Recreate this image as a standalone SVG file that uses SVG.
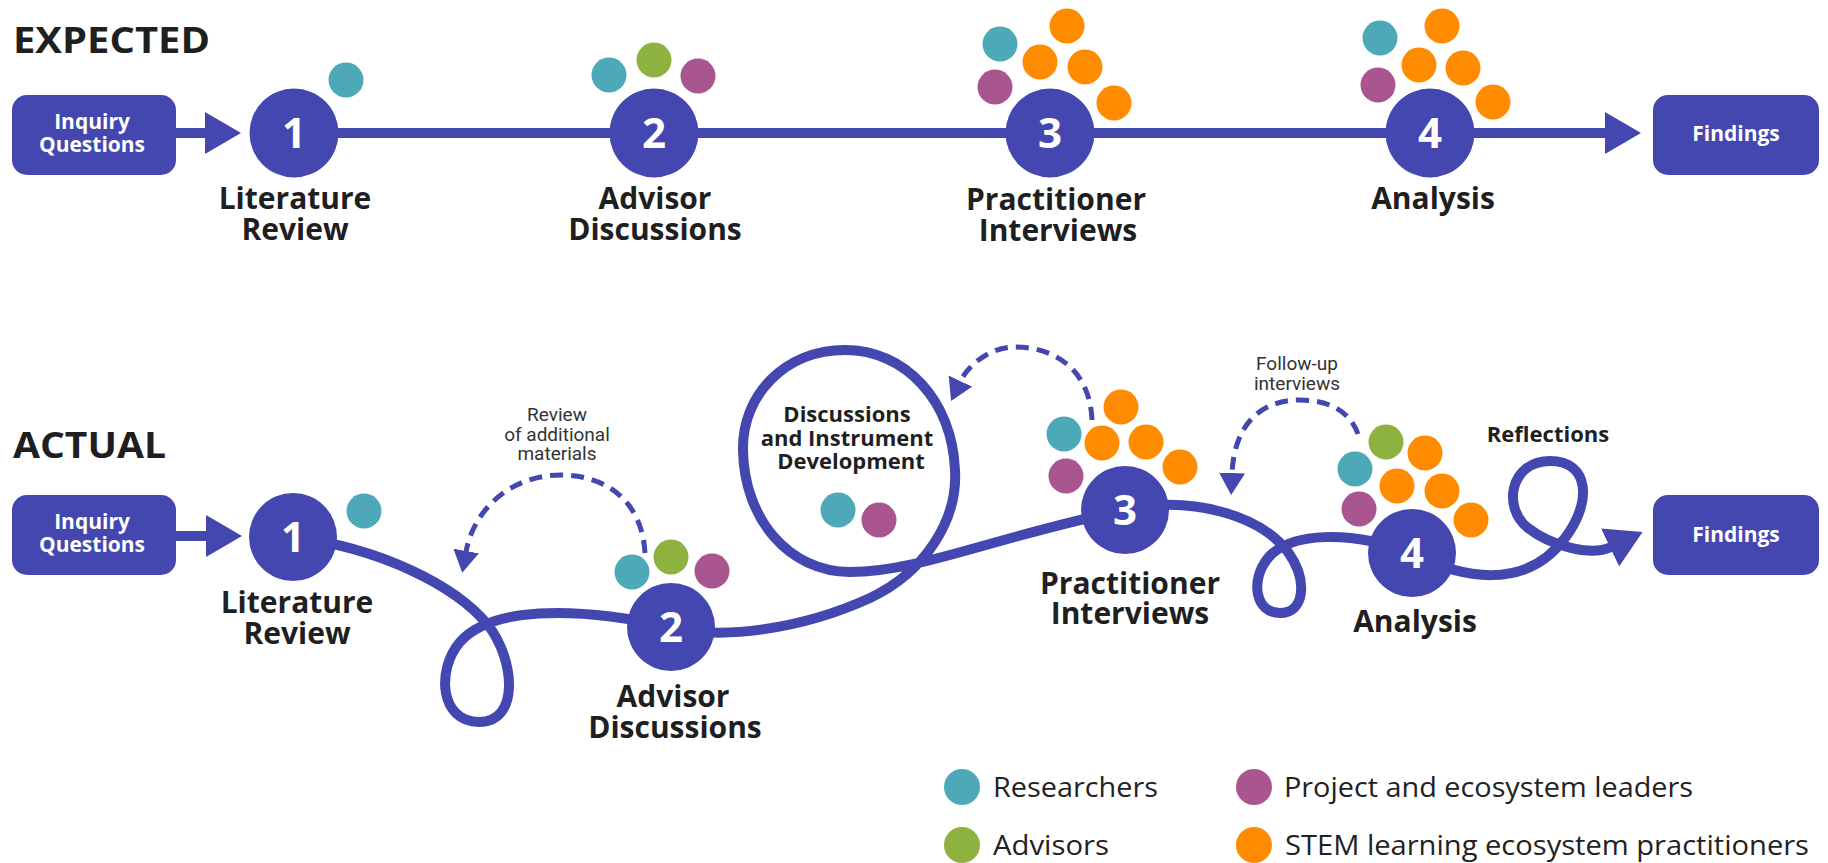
<svg xmlns="http://www.w3.org/2000/svg" width="1828" height="863" viewBox="0 0 1828 863">
<defs>
<style>
.ln{fill:none;stroke:#4447B0;stroke-width:10;stroke-linecap:round;stroke-linejoin:round}
.dash{fill:none;stroke:#4447B0;stroke-width:5;stroke-dasharray:13 8}
.blue{fill:#4447B0}
.teal{fill:#4DA9B7}
.green{fill:#8EB23F}
.purple{fill:#A85590}
.orange{fill:#FF8C00}
.num{font-family:'Open Sans','DejaVu Sans',sans-serif;font-weight:700;font-size:42px;fill:#fff;text-anchor:middle}
.boxt{font-family:'Open Sans','DejaVu Sans',sans-serif;font-weight:700;font-size:21px;fill:#fff;text-anchor:middle}
.lbl{font-family:'Open Sans','DejaVu Sans',sans-serif;font-weight:700;font-size:30px;fill:#1f1f1f;text-anchor:middle}
.lbls{font-family:'Open Sans','DejaVu Sans',sans-serif;font-weight:700;font-size:22px;fill:#1f1f1f;text-anchor:middle}
.title{font-family:'Open Sans','DejaVu Sans',sans-serif;font-weight:700;font-size:36px;fill:#1f1f1f}
.note{font-family:Roboto,'Liberation Sans',sans-serif;font-size:19px;fill:#333;text-anchor:middle}
.leg{font-family:'Open Sans','Liberation Sans',sans-serif;font-size:27px;fill:#222}
</style>
<marker id="ah" markerUnits="userSpaceOnUse" markerWidth="36" markerHeight="42" viewBox="0 0 36 42" refX="1" refY="21" orient="auto"><path d="M0,0 L36,21 L0,42 z" fill="#4447B0"/></marker>
<marker id="dh" markerUnits="userSpaceOnUse" markerWidth="22" markerHeight="26" viewBox="0 0 22 26" refX="1" refY="13" orient="auto"><path d="M0,0 L22,13 L0,26 z" fill="#4447B0"/></marker>
</defs>
<rect width="1828" height="863" fill="#fff"/>

<text class="title" x="13" y="53" textLength="197" lengthAdjust="spacingAndGlyphs">EXPECTED</text>
<text class="title" x="13" y="458" textLength="153" lengthAdjust="spacingAndGlyphs">ACTUAL</text>

<g id="connectors">
  <!-- expected -->
  <path class="ln" d="M176,133 H206" marker-end="url(#ah)"/>
  <path class="ln" d="M294,133 H1606" marker-end="url(#ah)"/>
  <!-- actual -->
  <path class="ln" d="M176,536 H207" marker-end="url(#ah)"/>
  <path class="ln" d="M293,537 C380,548 455,585 488,625 C515,660 520,722 479,722 C440,722 436,670 460,642 C490,608 570,605 671,627"/>
  <path class="ln" d="M671,627 C720,640 800,630 870,598 C925,572 958,520 955,470 C952,400 905,350 845,350 C785,350 742,395 743,450 C744,520 790,572 850,572 C920,572 1000,535 1125,510"/>
  <path class="ln" d="M1125,510 C1190,495 1260,515 1288,552 C1308,580 1305,613 1280,613 C1255,613 1250,580 1268,558 C1290,532 1350,530 1412,553"/>
  <path class="ln" d="M1412,553 C1460,578 1525,592 1565,538 C1592,503 1590,461 1550,461 C1510,461 1502,508 1528,528 C1550,545 1590,557 1611,547" marker-end="url(#ah)"/>
  <!-- dashed feedback arrows -->
  <path class="dash" d="M645,553 C642,500 605,475 561,475 C512,475 474,508 466,552" marker-end="url(#dh)"/>
  <path class="dash" d="M1092,420 C1090,370 1055,347 1015,347 C990,347 968,365 960,382" marker-end="url(#dh)"/>
  <path class="dash" d="M1358,434 C1350,412 1330,400 1300,400 C1260,400 1234,425 1232,474" marker-end="url(#dh)"/>
</g>

<!-- EXPECTED row -->
<g id="exp-inquiry">
  <rect class="blue" x="12" y="95" width="164" height="80" rx="15"/>
  <text class="boxt" x="92" y="129">Inquiry<tspan x="92" dy="23">Questions</tspan></text>
</g>
<g id="exp-step1">
  <circle class="blue" cx="294" cy="133" r="44.5"/>
  <text class="num" x="294" y="148">1</text>
  <circle class="teal" cx="346" cy="80" r="17.5"/>
  <text class="lbl" x="295" y="209">Literature<tspan x="295" dy="31">Review</tspan></text>
</g>
<g id="exp-step2">
  <circle class="blue" cx="654" cy="133" r="44.5"/>
  <text class="num" x="654" y="148">2</text>
  <circle class="teal" cx="609" cy="75" r="17.5"/>
  <circle class="green" cx="654" cy="60" r="17.5"/>
  <circle class="purple" cx="698" cy="76" r="17.5"/>
  <text class="lbl" x="655" y="209">Advisor<tspan x="655" dy="31">Discussions</tspan></text>
</g>
<g id="exp-step3">
  <circle class="blue" cx="1050" cy="133" r="44.5"/>
  <text class="num" x="1050" y="148">3</text>
  <circle class="teal" cx="1000" cy="44" r="17.5"/>
  <circle class="orange" cx="1067" cy="26" r="17.5"/>
  <circle class="orange" cx="1040" cy="62" r="17.5"/>
  <circle class="orange" cx="1085" cy="67" r="17.5"/>
  <circle class="purple" cx="995" cy="87" r="17.5"/>
  <circle class="orange" cx="1114" cy="103" r="17.5"/>
  <text class="lbl" x="1056" y="210">Practitioner<tspan x="1058" dy="31">Interviews</tspan></text>
</g>
<g id="exp-step4">
  <circle class="blue" cx="1430" cy="133" r="44.5"/>
  <text class="num" x="1430" y="148">4</text>
  <circle class="teal" cx="1380" cy="38" r="17.5"/>
  <circle class="orange" cx="1442" cy="26" r="17.5"/>
  <circle class="orange" cx="1419" cy="65" r="17.5"/>
  <circle class="orange" cx="1463" cy="68" r="17.5"/>
  <circle class="purple" cx="1378" cy="85" r="17.5"/>
  <circle class="orange" cx="1493" cy="102" r="17.5"/>
  <text class="lbl" x="1433" y="209">Analysis</text>
</g>
<g id="exp-findings">
  <rect class="blue" x="1653" y="95" width="166" height="80" rx="15"/>
  <text class="boxt" x="1736" y="141">Findings</text>
</g>

<!-- ACTUAL row -->
<g id="act-inquiry">
  <rect class="blue" x="12" y="495" width="164" height="80" rx="15"/>
  <text class="boxt" x="92" y="529">Inquiry<tspan x="92" dy="23">Questions</tspan></text>
</g>
<g id="act-step1">
  <circle class="blue" cx="293" cy="537" r="44"/>
  <text class="num" x="293" y="552">1</text>
  <circle class="teal" cx="364" cy="511" r="17.5"/>
  <text class="lbl" x="297" y="613">Literature<tspan x="297" dy="31">Review</tspan></text>
</g>
<g id="act-review-note">
  <text class="note" x="557" y="421">Review<tspan x="557" dy="20">of additional</tspan><tspan x="557" dy="19">materials</tspan></text>
</g>
<g id="act-step2">
  <circle class="blue" cx="671" cy="627" r="44"/>
  <text class="num" x="671" y="642">2</text>
  <circle class="teal" cx="632" cy="572" r="17.5"/>
  <circle class="green" cx="671" cy="557" r="17.5"/>
  <circle class="purple" cx="712" cy="571" r="17.5"/>
  <text class="lbl" x="673" y="707">Advisor<tspan x="675" dy="31">Discussions</tspan></text>
</g>
<g id="act-discussions-loop">
  <text class="lbls" x="847" y="422">Discussions<tspan x="847" dy="24">and Instrument</tspan><tspan x="851" dy="23">Development</tspan></text>
  <circle class="teal" cx="838" cy="510" r="17.5"/>
  <circle class="purple" cx="879" cy="520" r="17.5"/>
</g>
<g id="act-step3">
  <circle class="blue" cx="1125" cy="510" r="44"/>
  <text class="num" x="1125" y="525">3</text>
  <circle class="orange" cx="1121" cy="407" r="17.5"/>
  <circle class="teal" cx="1064" cy="434" r="17.5"/>
  <circle class="orange" cx="1102" cy="443" r="17.5"/>
  <circle class="orange" cx="1146" cy="442" r="17.5"/>
  <circle class="purple" cx="1066" cy="476" r="17.5"/>
  <circle class="orange" cx="1180" cy="467" r="17.5"/>
  <text class="lbl" x="1130" y="594">Practitioner<tspan x="1130" dy="30">Interviews</tspan></text>
</g>
<g id="act-followup-note">
  <text class="note" x="1297" y="370">Follow-up<tspan x="1297" dy="20">interviews</tspan></text>
</g>
<g id="act-step4">
  <circle class="blue" cx="1412" cy="553" r="44"/>
  <text class="num" x="1412" y="568">4</text>
  <circle class="green" cx="1386" cy="442" r="17.5"/>
  <circle class="orange" cx="1425" cy="453" r="17.5"/>
  <circle class="teal" cx="1355" cy="469" r="17.5"/>
  <circle class="orange" cx="1397" cy="486" r="17.5"/>
  <circle class="orange" cx="1442" cy="491" r="17.5"/>
  <circle class="purple" cx="1359" cy="509" r="17.5"/>
  <circle class="orange" cx="1471" cy="520" r="17.5"/>
  <text class="lbl" x="1415" y="632">Analysis</text>
</g>
<g id="act-reflections">
  <text class="lbls" x="1548" y="442">Reflections</text>
</g>
<g id="act-findings">
  <rect class="blue" x="1653" y="495" width="166" height="80" rx="15"/>
  <text class="boxt" x="1736" y="542">Findings</text>
</g>

<!-- Legend -->
<g id="legend">
  <circle class="teal" cx="962" cy="787" r="18"/>
  <text class="leg" x="993" y="797" textLength="165" lengthAdjust="spacingAndGlyphs">Researchers</text>
  <circle class="purple" cx="1254" cy="787" r="18"/>
  <text class="leg" x="1284" y="797" textLength="409" lengthAdjust="spacingAndGlyphs">Project and ecosystem leaders</text>
  <circle class="green" cx="962" cy="845" r="18"/>
  <text class="leg" x="993" y="855" textLength="116" lengthAdjust="spacingAndGlyphs">Advisors</text>
  <circle class="orange" cx="1254" cy="845" r="18"/>
  <text class="leg" x="1285" y="855" textLength="524" lengthAdjust="spacingAndGlyphs">STEM learning ecosystem practitioners</text>
</g>
</svg>
